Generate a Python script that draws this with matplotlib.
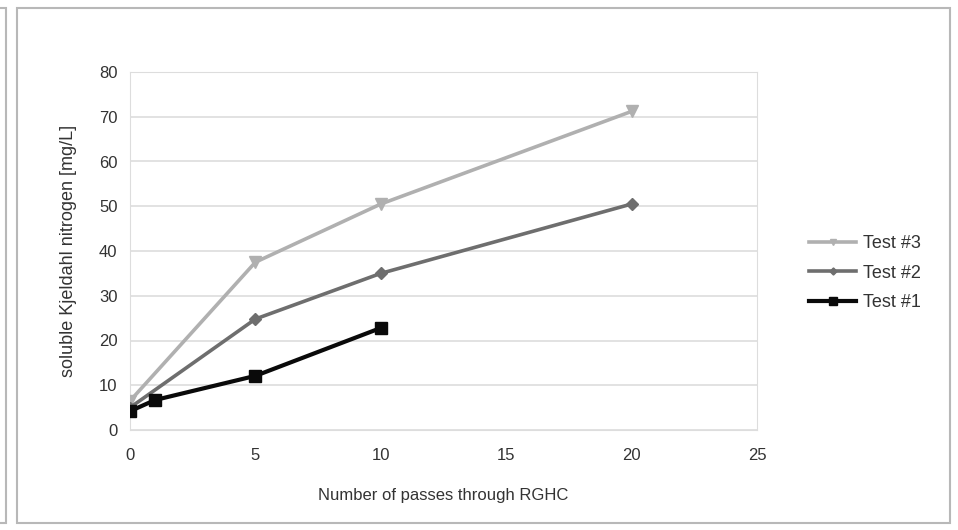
import matplotlib
matplotlib.use("Agg")
import matplotlib.pyplot as plt
from matplotlib.patches import Rectangle

# passes through RGHC vs soluble Kjeldahl nitrogen (mg/L)
x_t3 = [0, 5, 10, 20]
y_t3 = [6.5, 37.5, 50.5, 71.2]
x_t2 = [0, 5, 10, 20]
y_t2 = [5.0, 24.8, 35.0, 50.5]
x_t1 = [0, 1, 5, 10]
y_t1 = [4.2, 6.7, 12.1, 22.8]

plt.rcParams["font.family"] = ["Liberation Sans", "DejaVu Sans"]
fig = plt.figure(figsize=(9.58, 5.30), dpi=100)
# outer chart frame, plus the sliver of the neighbouring one on the left
fig.patches.append(Rectangle((17 / 958, 7 / 530), 933 / 958, 515 / 530, transform=fig.transFigure,
                             fill=False, edgecolor="#b8b8b8", linewidth=1.5))
fig.patches.append(Rectangle((-0.01, 7 / 530), 0.016, 515 / 530, transform=fig.transFigure,
                             fill=False, edgecolor="#b8b8b8", linewidth=1.5))

ax = fig.add_axes([130 / 958, 1 - 430 / 530, 627 / 958, 358 / 530])
ax.plot(x_t3, y_t3, color="#b0b0b0", lw=2.6, marker="v", ms=8, label="Test #3", zorder=3)
ax.plot(x_t2, y_t2, color="#6e6e6e", lw=2.6, marker="D", ms=6, label="Test #2", zorder=4)
ax.plot(x_t1, y_t1, color="#0a0a0a", lw=3.0, marker="s", ms=9, label="Test #1", zorder=5)

ax.set_xlim(0, 25)
ax.set_ylim(0, 80)
ax.set_xticks(range(0, 26, 5))
ax.set_yticks(range(0, 81, 10))
ax.grid(axis="y", color="#dddddd", linewidth=1.2)
ax.set_axisbelow(True)
for side in ax.spines:
    ax.spines[side].set_color("#dddddd")
ax.tick_params(length=0, labelsize=12, colors="#333333")
ax.tick_params(axis="x", pad=13)
ax.tick_params(axis="y", pad=9)
ax.set_xlabel("Number of passes through RGHC", fontsize=12, color="#333333", labelpad=18)
ax.set_ylabel("soluble Kjeldahl nitrogen [mg/L]", fontsize=13, color="#333333", labelpad=16)

h, l = ax.get_legend_handles_labels()
fig.legend(h, l, loc="center left", bbox_to_anchor=(793 / 958, 1 - 273 / 530), frameon=False,
           fontsize=13, handlelength=2.6, labelspacing=0.7, handletextpad=0.4,
           markerscale=0.6, labelcolor="#333333")

fig.savefig("out.png", dpi=100)
